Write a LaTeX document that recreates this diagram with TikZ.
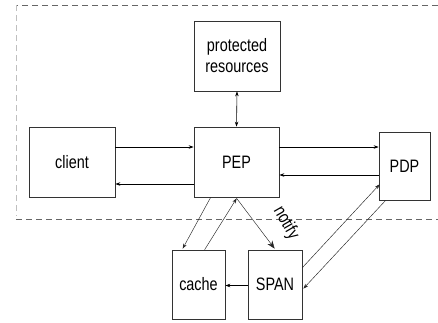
\documentclass[tikz,border=0pt]{standalone}
\usepackage{fontspec}
\setmainfont{Liberation Sans}
\newfontfamily\narrowsans[FakeStretch=0.8]{Liberation Sans}
\usetikzlibrary{arrows.meta,calc}
\begin{document}
\begin{tikzpicture}[x=1pt,y=-1pt,
  box/.style={draw=black!80,line width=0.7pt,inner sep=0pt,align=center,
    font=\narrowsans\fontsize{18}{21}\selectfont},
  arr/.style={line width=0.6pt,-{Stealth[length=5pt,width=3.5pt]}},
  darr/.style={line width=0.45pt,draw=black!85,-{Stealth[length=5pt,width=3.5pt]}},
  bigarr/.style={line width=0.45pt,draw=black!85,-{Stealth[length=8pt,width=6pt]}},
  zone/.style={draw=black!60,line width=0.6pt,dash pattern=on 6pt off 4pt}]
\useasboundingbox (0,0) rectangle (438,322);
% zone lines
\draw[zone] (438,5) -- (16,5);
\draw[zone,draw=black!25] (16,5) -- (16,216);
\draw[zone] (16,219) -- (438,219);
% boxes
\node[box,minimum width=86pt,minimum height=70pt] (prot) at (237,56) {protected\\resources};
\node[box,minimum width=86pt,minimum height=70pt] (client) at (72,162) {client};
\node[box,minimum width=85pt,minimum height=70pt] (pep) at (236.5,162) {PEP};
\node[box,minimum width=51pt,minimum height=68pt] (pdp) at (404.5,166) {PDP};
\node[box,minimum width=53pt,minimum height=69pt] (cache) at (198.5,284.5) {cache};
\node[box,minimum width=54pt,minimum height=69pt] (span) at (275,284.5) {SPAN};
% connectors
\draw[line width=0.6pt,{Stealth[length=5pt,width=3.5pt]}-{Stealth[length=5pt,width=3.5pt]}] (prot.south) -- (pep.north);
\draw[arr] ($(client.east)+(0,-15)$) -- ($(pep.west)+(0,-15)$);
\draw[arr] ($(pep.west)+(0,22)$) -- ($(client.east)+(0,22)$);
\draw[arr] ($(pep.east)+(0,-15)$) -- ($(pdp.west)+(0,-19)$);
\draw[arr] ($(pdp.west)+(0,9)$) -- ($(pep.east)+(0,13)$);
\draw[darr] ($(pep.south west)+(17,0)$) -- ($(cache.north west)+(11,-1)$);
\draw[darr] ($(cache.north west)+(33,0)$) -- ($(pep.south west)+(43,1)$);
\draw[bigarr] ($(pep.south west)+(43,1)$) -- ($(span.north west)+(27,-1)$);
\node[rotate=-60,inner sep=0pt,font=\narrowsans\fontsize{18}{21}\selectfont] (nt) at (286,223) {notify};
\draw[darr] ($(span.north east)+(0,18)$) -- ($(pdp.south west)+(1,-16)$);
\draw[darr] ($(pdp.south west)+(7,0)$) -- ($(span.north east)+(1,39)$);
\draw[arr] ($(span.west)+(0,1)$) -- ($(cache.east)+(0,1)$);
\end{tikzpicture}
\end{document}
